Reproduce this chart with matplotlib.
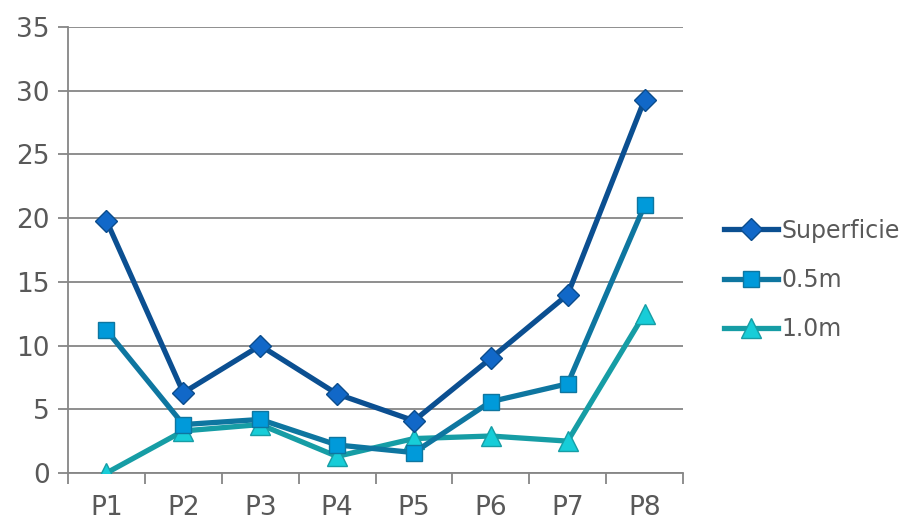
import matplotlib.pyplot as plt

categories = ['P1', 'P2', 'P3', 'P4', 'P5', 'P6', 'P7', 'P8']
superficie = [19.8, 6.3, 10.0, 6.2, 4.1, 9.0, 14.0, 29.3]
m05 = [11.2, 3.8, 4.2, 2.2, 1.6, 5.6, 7.0, 21.0]
m10 = [0.0, 3.3, 3.8, 1.3, 2.7, 2.9, 2.5, 12.5]

txt = '#595959'
grid = '#868686'

fig = plt.figure(figsize=(9.17, 5.26), dpi=100)
ax = fig.add_axes([0.0742, 0.1008, 0.6706, 0.8479])

x = list(range(len(categories)))
ax.plot(x, superficie, color='#0B4F91', lw=3.8, marker='D', ms=11,
        mfc='#1168C8', mec='#0B4C8C', mew=1, label='Superficie', zorder=5)
ax.plot(x, m05, color='#0E76A0', lw=3.8, marker='s', ms=12,
        mfc='#009ADA', mec='#0E76A0', mew=1, label='0.5m', zorder=4)
ax.plot(x, m10, color='#169DA5', lw=3.8, marker='^', ms=14,
        mfc='#17CDD8', mec='#169DA5', mew=1, label='1.0m', zorder=3)

ax.set_xlim(-0.5, 7.5)
ax.set_ylim(0, 35)
ax.set_yticks(range(0, 36, 5))
ax.yaxis.grid(True, color=grid, lw=1.3)
ax.set_axisbelow(True)

ax.set_xticks(x)
ax.set_xticklabels(categories)
ax.set_xticks([i - 0.5 for i in range(9)], minor=True)
ax.tick_params(axis='x', which='major', length=0, pad=16, labelsize=19, labelcolor=txt)
ax.tick_params(axis='x', which='minor', length=8, width=1.3, color=grid, direction='out')
ax.tick_params(axis='y', length=7, width=1.3, color=grid, pad=6, labelsize=19, labelcolor=txt)

for s in ['top', 'right']:
    ax.spines[s].set_visible(False)
for s in ['left', 'bottom']:
    ax.spines[s].set_color(grid)
    ax.spines[s].set_linewidth(1.3)

fig.legend(loc='center left', bbox_to_anchor=(0.779, 0.468), frameon=False,
           fontsize=17, labelcolor=txt, handlelength=2.3, handletextpad=0.15,
           labelspacing=1.07, borderaxespad=0)

plt.savefig('out.png', dpi=100)
